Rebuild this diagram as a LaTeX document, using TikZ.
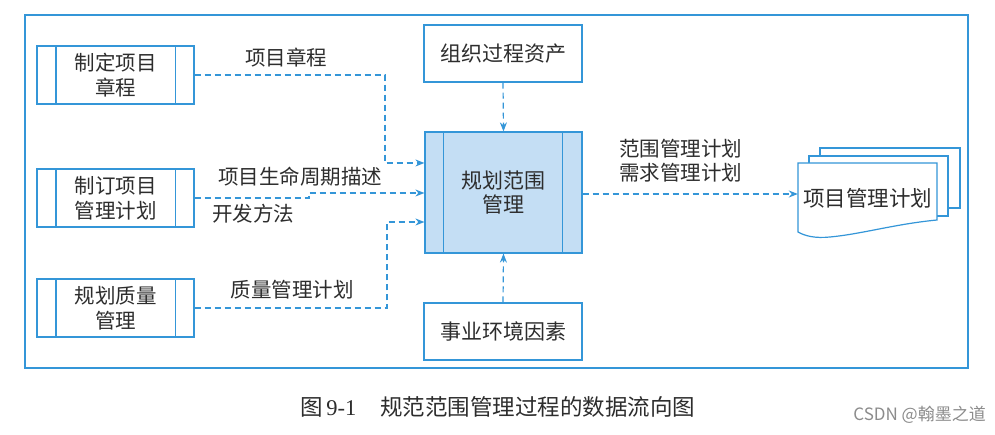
\documentclass[tikz,border=0pt]{standalone}
\usepackage{fontspec}
\setmainfont{Noto Sans CJK SC}
\newfontfamily\serifnum{Liberation Serif}
\newfontfamily\wmfont{Noto Sans CJK SC}
\usetikzlibrary{arrows.meta,calc}
\definecolor{lineblue}{RGB}{52,150,216}
\definecolor{fillblue}{RGB}{196,222,244}
\definecolor{txt}{RGB}{45,45,45}
\tikzset{
  procbox/.style={draw=lineblue,line width=1.2pt,minimum width=157pt,minimum height=58pt,inner sep=0pt,
    align=center,text=txt,font=\fontsize{20.5}{25}\selectfont},
  plainbox/.style={draw=lineblue,line width=1.2pt,minimum width=158pt,minimum height=57pt,inner sep=0pt,
    align=center,text=txt,font=\fontsize{21}{25}\selectfont},
  flow/.style={draw=lineblue,line width=1.2pt,dash pattern=on 6pt off 4pt,-{Stealth[length=9pt,width=7pt]}},
  lbl/.style={text=txt,font=\fontsize{20.5}{24}\selectfont,inner sep=0pt,align=left},
  docshape/.style={draw=lineblue,line width=1.2pt,fill=white}
}
\begin{document}
\begin{tikzpicture}[x=1pt,y=-1pt]
\useasboundingbox (0,0) rectangle (995,435);
\fill[white] (0,0) rectangle (995,435);
% outer frame
\draw[lineblue,line width=1.2pt] (25,15) rectangle (968,368);

% left process boxes
\node[procbox] (b1) at (115.5,75) {制定项目\\章程};
\node[procbox] (b2) at (115.5,198) {制订项目\\管理计划};
\node[procbox] (b3) at (115.5,308) {规划质量\\管理};
\foreach \n in {b1,b2,b3}{
  \draw[lineblue,line width=1.2pt] ($(\n.north west)+(19.5,0)$) -- ($(\n.south west)+(19.5,0)$);
  \draw[lineblue,line width=1.2pt] ($(\n.north east)+(-19.5,0)$) -- ($(\n.south east)+(-19.5,0)$);
}

% central process
\node[procbox,fill=fillblue,minimum height=121pt,font=\fontsize{21}{24}\selectfont] (c) at (503.5,192.5) {规划范围\\管理};
\draw[lineblue,line width=1.2pt] ($(c.north west)+(19,0)$) -- ($(c.south west)+(19,0)$);
\draw[lineblue,line width=1.2pt] ($(c.north east)+(-20,0)$) -- ($(c.south east)+(-20,0)$);

% top / bottom boxes
\node[plainbox] (top) at (503,53.5) {组织过程资产};
\node[plainbox] (bot) at (503,331.5) {事业环境因素};

% document stack
\draw[docshape] (820,148) rectangle (960,208);
\draw[docshape] (809,156) rectangle (948,216);
\node[minimum width=139pt,minimum height=68pt,inner sep=0pt] (doc) at (867.5,198) {};
\draw[docshape] (798,163) -- (937,163) -- (937,220)
  .. controls (895,224) and (862,234) .. (830,237)
  .. controls (815,238.5) and (805,236) .. (798,232) -- cycle;
\node[text=txt,font=\fontsize{21.5}{24}\selectfont,inner sep=0pt] at (867.5,198) {项目管理计划};

% connectors
\coordinate (k1) at (385,163);
\coordinate (k2) at (309,193);
\coordinate (k3) at (387,222);
\draw[flow] (b1.east) -| (k1) -- (k1 -| c.west);
\draw[flow] (b2.east) -| (k2) -- (k2 -| c.west);
\draw[flow] (b3.east) -| (k3) -- (k3 -| c.west);
\draw[flow] (top.south) -- (c.north);
\draw[flow] (bot.north) -- (c.south);
\coordinate (k4) at (700,194);
\draw[flow] (c.east |- k4) -- (k4 -| doc.west);

% labels
\node[lbl] (l1) at (286,58) {项目章程};
\node[lbl] (l2) at (300,177) {项目生命周期描述};
\node[lbl] (l3) at (253,214) {开发方法};
\node[lbl] (l4) at (292,290) {质量管理计划};
\node[lbl,anchor=west] (l5) at (619,160.5) {范围管理计划\\需求管理计划};

% caption
\node[anchor=west,text=txt,inner sep=0pt,font=\fontsize{22.5}{24}\selectfont] (cap) at (300,407)
  {图\,{\serifnum 9-1}\hspace{24pt}规范范围管理过程的数据流向图};
\node[anchor=east,text=black!45,inner sep=0pt,font=\wmfont\fontsize{17}{18}\selectfont] (wm) at (986,415) {CSDN @翰墨之道};
\end{tikzpicture}
\end{document}
